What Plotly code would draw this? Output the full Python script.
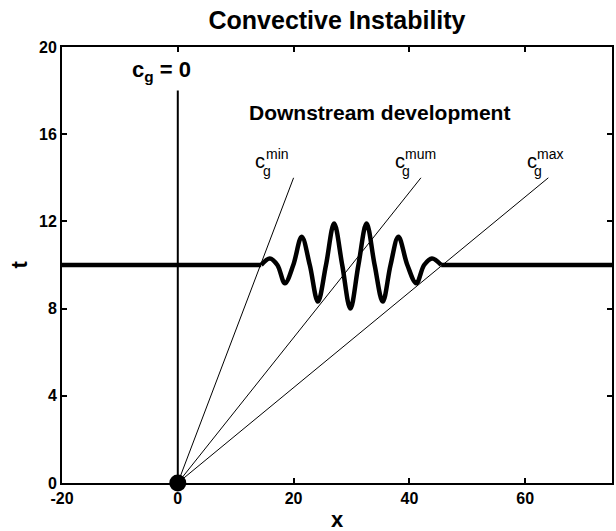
import plotly.graph_objects as go

# Axis ranges and ticks
x_range = [-20, 75]
t_range = [0, 20]
x_ticks = [-20, 0, 20, 40, 60]
x_tick_labels = ["-20", "0", "20", "40", "60"]
t_ticks = [0, 4, 8, 12, 16, 20]
t_tick_labels = ["0", "4", "8", "12", "16", "20"]

# Undisturbed state at t = 10, left and right of the wave packet
flat_left_x = [-20, 14.4]
flat_right_x = [45.5, 75]
flat_t = [10, 10]

# Wave packet at t = 10: extrema and crossings
packet_x = [14.4, 15.9, 17.2, 18.5, 19.95, 21.4, 22.8, 24.2, 25.6, 27.0, 28.4,
            29.8, 31.2, 32.6, 34.0, 35.4, 36.75, 38.1, 39.65, 41.2, 42.55, 43.9, 45.5]
packet_t = [10.0, 10.3, 10.0, 9.16, 10.0, 11.3, 10.0, 8.32, 10.0, 11.9, 10.0,
            8.0, 10.0, 11.9, 10.0, 8.32, 10.0, 11.3, 10.0, 9.16, 10.0, 10.3, 10.0]

# Group-velocity rays from the origin: (x, t) end points
ray_names = ["min", "mum", "max"]
ray_end_x = [20, 42, 64]
ray_end_t = [14, 14, 14]

# Stationary ray c_g = 0
stationary_x = [0, 0]
stationary_t = [0, 18]

FONT = "Liberation Sans"
BLACK = "#000000"

fig = go.Figure()

for name, ex, et in zip(ray_names, ray_end_x, ray_end_t):
    fig.add_trace(go.Scatter(x=[0, ex], y=[0, et], mode="lines",
                             line=dict(color=BLACK, width=1), hoverinfo="skip"))

fig.add_trace(go.Scatter(x=stationary_x, y=stationary_t, mode="lines",
                         line=dict(color=BLACK, width=2), hoverinfo="skip"))

for fx in (flat_left_x, flat_right_x):
    fig.add_trace(go.Scatter(x=fx, y=flat_t, mode="lines",
                             line=dict(color=BLACK, width=4.5), hoverinfo="skip"))

fig.add_trace(go.Scatter(x=packet_x, y=packet_t, mode="lines",
                         line=dict(color=BLACK, width=4.5, shape="spline", smoothing=1.0),
                         hoverinfo="skip"))

# Initial disturbance at the origin
fig.add_trace(go.Scatter(x=[0], y=[0], mode="markers", cliponaxis=False,
                         marker=dict(color=BLACK, size=17), hoverinfo="skip"))

annotations = []
# Ray labels: c with subscript g, superscript name stacked above the g
label_c_x = [13.0, 37.2, 60.0]
label_sup_x = [14.9, 38.9, 61.7]
for name, cx, sx in zip(ray_names, label_c_x, label_sup_x):
    annotations.append(dict(x=cx, y=14.75, xref="x", yref="y", text="c",
                            showarrow=False, xanchor="left", yanchor="middle",
                            font=dict(family=FONT, size=20, color=BLACK)))
    annotations.append(dict(x=sx - 0.45, y=14.3, xref="x", yref="y", text="g",
                            showarrow=False, xanchor="left", yanchor="middle",
                            font=dict(family=FONT, size=14, color=BLACK)))
    annotations.append(dict(x=sx, y=15.1, xref="x", yref="y", text=name,
                            showarrow=False, xanchor="left", yanchor="middle",
                            font=dict(family=FONT, size=14, color=BLACK)))

annotations.append(dict(x=-2.9, y=18.9, xref="x", yref="y",
                        text="c<sub>g</sub> = 0", showarrow=False,
                        xanchor="center", yanchor="middle",
                        font=dict(family=FONT, size=22, color=BLACK, weight="bold")))
annotations.append(dict(x=34.9, y=17.0, xref="x", yref="y",
                        text="Downstream development", showarrow=False,
                        xanchor="center", yanchor="middle",
                        font=dict(family=FONT, size=21, color=BLACK, weight="bold")))
# Axis titles
annotations.append(dict(x=0.5, y=-0.084, xref="paper", yref="paper", text="x",
                        showarrow=False, xanchor="center", yanchor="middle",
                        font=dict(family=FONT, size=22, color=BLACK, weight="bold")))
annotations.append(dict(x=-0.079, y=0.5, xref="paper", yref="paper", text="t",
                        showarrow=False, xanchor="center", yanchor="middle",
                        textangle=-90,
                        font=dict(family=FONT, size=22, color=BLACK, weight="bold")))

axis_common = dict(showgrid=False, zeroline=False, showline=True, linecolor=BLACK,
                   linewidth=2, mirror="ticks", ticks="inside", ticklen=5,
                   tickwidth=2, tickcolor=BLACK,
                   tickfont=dict(family=FONT, size=16, color=BLACK, weight="bold"))

fig.update_layout(
    width=616, height=531,
    margin=dict(l=62, r=2, t=47, b=48),
    paper_bgcolor="white", plot_bgcolor="white",
    showlegend=False,
    title=dict(text="Convective Instability", x=0.5, xref="paper", xanchor="center",
               y=1 - 20 / 531, yref="container", yanchor="middle",
               font=dict(family=FONT, size=25, color=BLACK, weight="bold")),
    xaxis=dict(range=x_range, tickvals=x_ticks, ticktext=x_tick_labels, **axis_common),
    yaxis=dict(range=t_range, tickvals=t_ticks, ticktext=t_tick_labels, **axis_common),
    annotations=annotations,
)

fig.write_html("out.html")
